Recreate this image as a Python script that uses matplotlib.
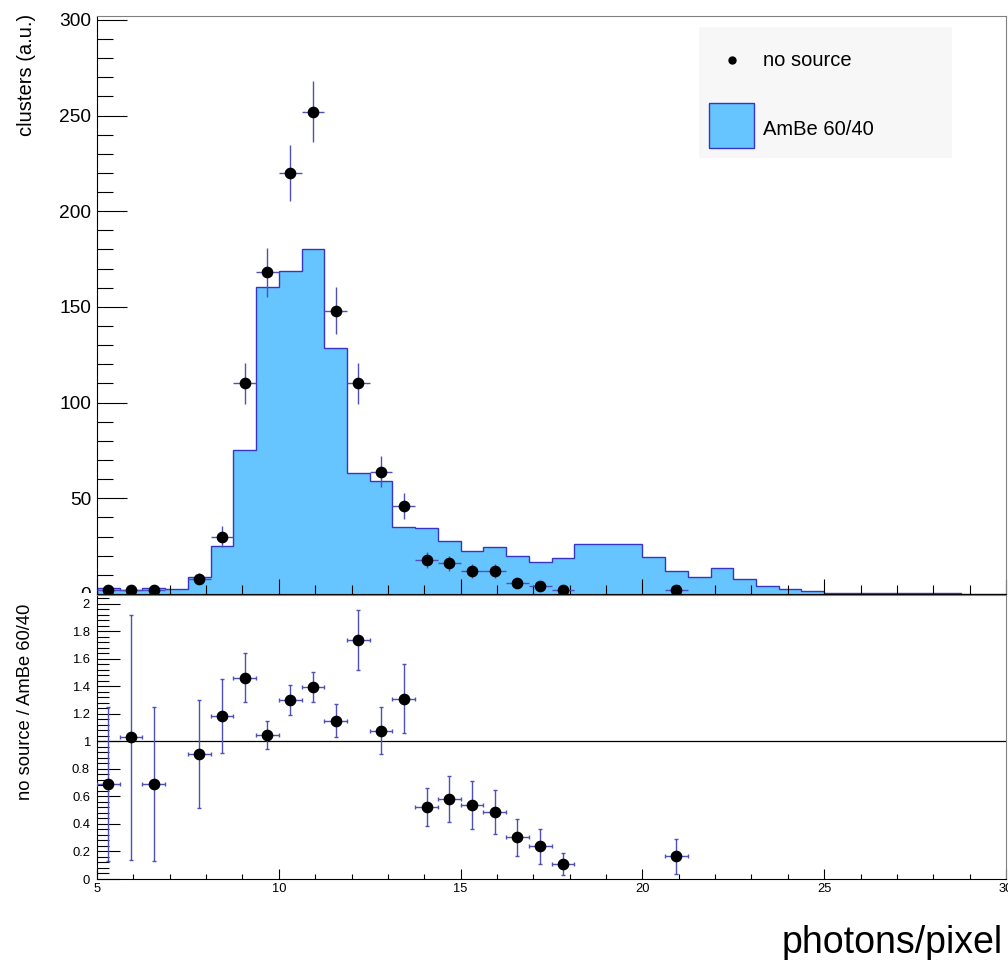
import numpy as np
import matplotlib.pyplot as plt
from matplotlib.ticker import MultipleLocator
from matplotlib.lines import Line2D
from matplotlib.patches import Rectangle

plt.rcParams['font.family'] = ['Liberation Sans', 'DejaVu Sans']

# 40 bins of 0.625 photons/pixel between 5 and 30
bin_lo = 5.0
bin_w = 0.625
n_bins = 40

# AmBe 60/40, normalised to the no-source integral
ambe = [2.9, 1.94, 2.9, 2.5, 8.8, 25.3, 75.1, 160.6, 168.7, 180.5,
        128.5, 63.3, 59.3, 35.1, 34.5, 27.5, 22.4, 24.5, 19.7, 16.9,
        18.8, 26.1, 26.1, 26.1, 19.2, 12.2, 8.9, 13.4, 7.8, 4.4,
        2.6, 1.6, 0.7, 0.7, 0.7, 0.7, 0.7, 0.7, 0.0, 0.0]

# no-source run: filled bins, counts and their errors
nosrc_bin = [0, 1, 2, 4, 5, 6, 7, 8, 9, 10, 11, 12, 13, 14, 15, 16, 17, 18, 19, 20, 25]
nosrc_counts = [2, 2, 2, 8, 30, 110, 168, 220, 252, 148, 110, 64, 46, 18, 16, 12, 12, 6, 4, 2, 2]
nosrc_err = [1.4, 1.4, 1.4, 2.8, 5.5, 10.5, 13.0, 14.8, 15.9, 12.2, 10.5, 8.0, 6.8,
             4.2, 4.0, 3.5, 3.5, 2.4, 2.0, 1.4, 1.4]
ratio_err = [0.56, 0.89, 0.56, 0.39, 0.27, 0.18, 0.10, 0.11, 0.11, 0.12, 0.22, 0.17,
             0.25, 0.14, 0.165, 0.175, 0.16, 0.135, 0.125, 0.08, 0.125]

legend_labels = ['no source', 'AmBe 60/40']

edges = bin_lo + bin_w * np.arange(n_bins + 1)
centres = bin_lo + bin_w * (np.array(nosrc_bin) + 0.5)
ambe = np.array(ambe)
counts = np.array(nosrc_counts, dtype=float)
ratio = counts / ambe[nosrc_bin]

fill_col = '#66c4ff'
line_col = '#3535c8'
err_col = '#5050bb'

W, H = 1008, 960


def fx(px):
    return px / W


def fy(py):
    return 1 - py / H


fig = plt.figure(figsize=(W / 100, H / 100), dpi=100)
ax = fig.add_axes([fx(97), fy(594), 909 / W, 578 / H])
rax = fig.add_axes([fx(97), fy(879), 909 / W, 284 / H])
rax.set_zorder(2)

# upper pad: spectrum comparison
ax.stairs(ambe, edges, fill=True, color=fill_col, lw=0)
ax.stairs(ambe, edges, color=line_col, lw=1.0)
ax.errorbar(centres, counts, xerr=bin_w / 2, yerr=nosrc_err, fmt='o', ms=7.4,
            mfc='black', mec='black', ecolor=err_col, elinewidth=1.0, capsize=0,
            zorder=3)
ax.set_xlim(5, 30)
ax.set_ylim(0, 302)
ax.xaxis.set_major_locator(MultipleLocator(5))
ax.xaxis.set_minor_locator(MultipleLocator(1))
ax.yaxis.set_major_locator(MultipleLocator(50))
ax.yaxis.set_minor_locator(MultipleLocator(10))
ax.tick_params(which='both', direction='in', top=False, right=False, width=0.8)
ax.tick_params(axis='y', which='major', length=21.6, labelsize=13.8, pad=4.3)
ax.tick_params(axis='y', which='minor', length=11.5)
ax.tick_params(axis='x', which='major', length=10.8, labelbottom=False)
ax.tick_params(axis='x', which='minor', length=6.5)

# legend box, drawn in figure pixels
tf = fig.transFigure
fig.add_artist(Rectangle((fx(699), fy(158)), 253 / W, 131 / H, transform=tf,
                         facecolor='#f7f7f7', edgecolor='none', zorder=3))
fig.add_artist(Line2D([fx(731.7)], [fy(60)], transform=tf, ls='none', marker='o',
                      ms=5, color='black', zorder=4))
fig.add_artist(Rectangle((fx(709.3), fy(148.3)), 44.7 / W, 45.6 / H, transform=tf,
                         facecolor=fill_col, edgecolor=line_col, lw=1.0, zorder=4))
fig.text(fx(763.3), fy(65.5), legend_labels[0], ha='left', va='baseline',
         fontsize=14.5, zorder=5)
fig.text(fx(763.3), fy(135.2), legend_labels[1], ha='left', va='baseline',
         fontsize=14.5, zorder=5)

# lower pad: ratio
rax.errorbar(centres, ratio, xerr=bin_w / 2, yerr=ratio_err, fmt='o', ms=7.4,
             mfc='black', mec='black', ecolor=err_col, elinewidth=1.0,
             capsize=1.6, capthick=1.0, zorder=3)
rax.axhline(1, color='black', lw=0.9, zorder=2)
rax.set_xlim(5, 30)
rax.set_ylim(0, 2.065)
rax.xaxis.set_major_locator(MultipleLocator(5))
rax.xaxis.set_minor_locator(MultipleLocator(1))
rax.yaxis.set_major_locator(MultipleLocator(0.2))
rax.yaxis.set_minor_locator(MultipleLocator(0.04))
rax.yaxis.set_major_formatter(plt.FuncFormatter(lambda v, p: f'{v:.1f}'.rstrip('0').rstrip('.') if v else '0'))
rax.tick_params(which='both', direction='in', top=False, right=False, width=0.8)
rax.tick_params(axis='y', which='major', length=16.6, labelsize=9.4, pad=5)
rax.tick_params(axis='y', which='minor', length=8.6)
rax.tick_params(axis='x', which='major', length=7.2, labelsize=9.3, pad=3.2)
rax.tick_params(axis='x', which='minor', length=3.6)

for a in (ax, rax):
    for side in ('left', 'bottom'):
        a.spines[side].set_linewidth(0.8)
    for side in ('top', 'right'):
        a.spines[side].set_color('#808080')
        a.spines[side].set_linewidth(0.8)

# the lower pad hides the bottom half of the upper pad's "0"
fig.add_artist(Rectangle((0, fy(612)), 96 / W, 19 / H, transform=tf,
                         facecolor='white', edgecolor='none', zorder=1))

fig.text(fx(27), fy(14), 'clusters (a.u.)', rotation=90, ha='center', va='top',
         fontsize=14.5)
fig.text(fx(26), fy(604), 'no source / AmBe 60/40', rotation=90, ha='center',
         va='top', fontsize=13.2)
fig.text(fx(1003), fy(952.7), 'photons/pixel', ha='right', va='baseline',
         fontsize=27)

fig.savefig('out.png', dpi=100)
